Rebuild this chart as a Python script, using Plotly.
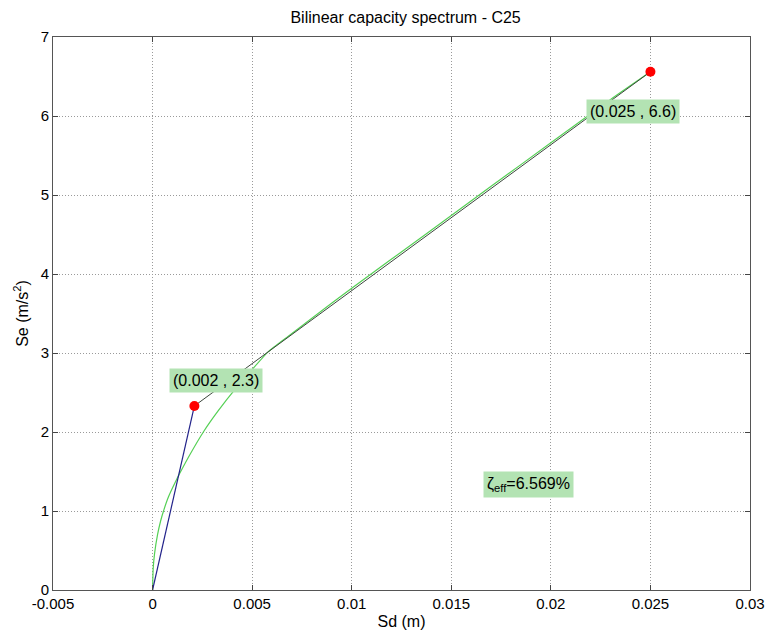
import plotly.graph_objects as go

# Capacity curve (spectral displacement in m, spectral acceleration in m/s^2)
capacity_sd = [0.0, 0.00003, 0.0001, 0.00025, 0.0004, 0.00055, 0.0008, 0.00117,
               0.0015, 0.0018, 0.00255, 0.0033, 0.0042, 0.005, 0.0058, 0.0068,
               0.008, 0.01, 0.0137, 0.017, 0.02, 0.023, 0.025]
capacity_se = [0.0, 0.27, 0.46, 0.70, 0.87, 1.0, 1.18, 1.38,
               1.54, 1.68, 2.0, 2.27, 2.558, 2.79, 3.014, 3.21,
               3.44, 3.82, 4.50, 5.11, 5.66, 6.21, 6.56]

# Bilinear idealisation: origin, yield point, ultimate point
yield_pt = (0.0021, 2.33)
ultimate_pt = (0.025, 6.56)
zeta_eff = 6.569

x_ticks = [-0.005, 0, 0.005, 0.01, 0.015, 0.02, 0.025, 0.03]
x_tick_text = ["-0.005", "0", "0.005", "0.01", "0.015", "0.02", "0.025", "0.03"]
y_ticks = [0, 1, 2, 3, 4, 5, 6, 7]

font_family = "Liberation Sans, Arial, sans-serif"
box_green = "#b3e3b3"

fig = go.Figure()

fig.add_trace(go.Scatter(
    x=capacity_sd, y=capacity_se, mode="lines",
    line=dict(color="#55d055", width=1.2, shape="spline", smoothing=0.5),
    hoverinfo="skip"))

fig.add_trace(go.Scatter(
    x=[0, yield_pt[0]], y=[0, yield_pt[1]], mode="lines",
    line=dict(color="#22228a", width=1.2), hoverinfo="skip"))

fig.add_trace(go.Scatter(
    x=[yield_pt[0], ultimate_pt[0]], y=[yield_pt[1], ultimate_pt[1]], mode="lines",
    line=dict(color="#3c463c", width=1.0), hoverinfo="skip"))

fig.add_trace(go.Scatter(
    x=[yield_pt[0], ultimate_pt[0]], y=[yield_pt[1], ultimate_pt[1]], mode="markers",
    marker=dict(color="#ff0000", size=10), hoverinfo="skip"))

label_style = dict(showarrow=False, bgcolor=box_green, borderpad=3,
                   font=dict(family=font_family, size=16, color="#000000"))

fig.add_annotation(x=0.0032, y=2.65,
                   text=f"({yield_pt[0]:.3f} , {yield_pt[1]:.1f})", **label_style)
fig.add_annotation(x=0.0241, y=6.06,
                   text=f"({ultimate_pt[0]:.3f} , {ultimate_pt[1]:.1f})", **label_style)
fig.add_annotation(x=0.0189, y=1.33,
                   text=f"ζ<sub>eff</sub>={zeta_eff:.3f}%", **label_style)

axis_common = dict(
    showline=True, linecolor="#555555", linewidth=1, mirror="ticks",
    ticks="inside", ticklen=5, tickcolor="#444444",
    showgrid=True, gridcolor="#9a9a9a", griddash="1px,2px", gridwidth=1,
    zeroline=False,
    tickfont=dict(family=font_family, size=15, color="#000000"),
)

fig.update_xaxes(range=[-0.005, 0.03], tickvals=x_ticks, ticktext=x_tick_text,
                 title=dict(text="Sd (m)", font=dict(family=font_family, size=16, color="#000000"),
                            standoff=4),
                 **axis_common)
fig.update_yaxes(range=[0, 7], tickvals=y_ticks,
                 title=dict(text="Se (m/s<sup>2</sup>)",
                            font=dict(family=font_family, size=16, color="#000000"),
                            standoff=8),
                 **axis_common)

fig.update_layout(
    width=777, height=639,
    margin=dict(l=53, r=19, t=37, b=46),
    paper_bgcolor="#ffffff", plot_bgcolor="#ffffff",
    showlegend=False,
    title=dict(text="Bilinear capacity spectrum - C25", x=0.522, xanchor="center",
               y=0.973, yanchor="middle",
               font=dict(family=font_family, size=16, color="#000000")),
)

fig.write_html("out.html")
